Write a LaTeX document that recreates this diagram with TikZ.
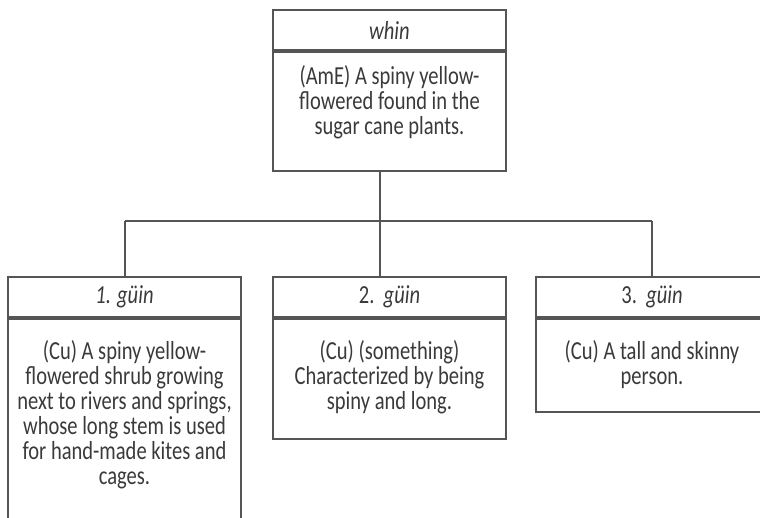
\documentclass[tikz,border=0pt]{standalone}
\usepackage{fontspec}
\setmainfont[FakeStretch=0.79]{Carlito}
\usetikzlibrary{positioning}
\definecolor{linegray}{HTML}{555555}
\definecolor{textgray}{HTML}{3A3A3A}

\begin{document}
\begin{tikzpicture}[x=0.5pt,y=-0.5pt,node distance=0pt,
    headbox/.style={draw=linegray,line width=1pt,text=textgray,minimum width=116.5pt,
      minimum height=20pt,inner sep=0pt,font=\fontsize{13}{12.5}\selectfont\itshape},
    bodybox/.style={draw=linegray,line width=1pt,minimum width=116.5pt,inner sep=0pt},
    bodytext/.style={text=textgray,align=center,inner sep=0pt,
      font={\fontsize{13}{12.5}\selectfont\lineskiplimit-6pt}}]

    \useasboundingbox (0,0) rectangle (760,518);

    % level 0
    \node[headbox] (whinh) at (389.5,30) {whin};
    \node[bodybox,minimum height=59.5pt,below=of whinh] (whinb) {};
    \node[bodytext,below=7pt of whinh] (whint)
      {(AmE) A spiny yellow-\\flowered found in the\\sugar cane plants.};

    % level 1
    \node[headbox] (guin1h) at (124.5,297) {1. güin};
    \node[bodybox,minimum height=106.5pt,below=of guin1h] (guin1b) {};
    \node[bodytext,below=11pt of guin1h] (guin1t)
      {(Cu) A spiny yellow-\\flowered shrub growing\\next to rivers and springs,\\whose long stem is used\\for hand-made kites and\\cages.};

    \node[headbox] (guin2h) at (389.5,297) {\upshape 2.\ \ \itshape güin};
    \node[bodybox,minimum height=60pt,below=of guin2h] (guin2b) {};
    \node[bodytext,below=11pt of guin2h] (guin2t)
      {(Cu) (something)\\Characterized by being\\spiny and long.};

    \node[headbox] (guin3h) at (652,297) {\upshape 3.\ \ \itshape güin};
    \node[bodybox,minimum height=46.5pt,below=of guin3h] (guin3b) {};
    \node[bodytext,below=11pt of guin3h] (guin3t)
      {(Cu) A tall and skinny\\person.};

    % bus
    \coordinate (jn) at (380,221);
    \coordinate (busl) at (124.5,221);
    \coordinate (busr) at (652,221);

    \draw[linegray,line width=1pt] (jn |- whinb.south) -- (jn);
    \draw[linegray,line width=1pt] (busl) -- (busr);
    \draw[linegray,line width=1pt] (busl) -- (guin1h.north);
    \draw[linegray,line width=1pt] (jn) -- (jn |- guin2h.north);
    \draw[linegray,line width=1pt] (busr) -- (guin3h.north);

  \end{tikzpicture}
\end{document}
